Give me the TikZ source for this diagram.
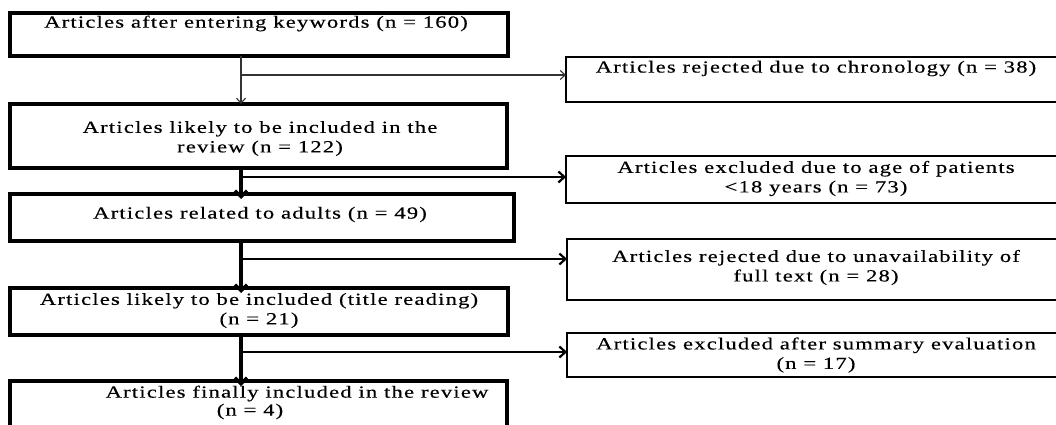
\documentclass[tikz,border=0pt]{standalone}
\usepackage{fontspec}
\setmainfont{Liberation Serif}[FakeStretch=1.33, LetterSpace=7, FakeBold=0.4]
\usetikzlibrary{arrows.meta}
\begin{document}
\begin{tikzpicture}[x=1pt,y=-1pt,
  box/.style={draw=black, line width=3.2pt, inner sep=0pt, outer sep=0pt},
  rbox/.style={box, line width=2.8pt},
  txt/.style={align=center, inner sep=0pt, outer sep=0pt, font=\fontsize{17}{19.5}\selectfont},
  thinarr/.style={draw=black!80, line width=1.1pt, -{Straight Barb[length=5pt,width=9pt]}},
  thickv/.style={line width=3.2pt, -{Straight Barb[length=6pt,width=12pt]}, shorten >=-5pt},
  branch/.style={line width=2.2pt, -{Straight Barb[length=6pt,width=11pt]}}]
\useasboundingbox (0,0) rectangle (1056,425);
\clip (0,0) rectangle (1056,425);
% left column boxes
\node[box, minimum width=498pt, minimum height=43pt] (b1) at (259,34.5) {};
\node[box, minimum width=497pt, minimum height=64pt] (b2) at (258.5,136) {};
\node[box, minimum width=504pt, minimum height=47pt] (b3) at (262,217.5) {};
\node[box, minimum width=498pt, minimum height=47pt] (b4) at (259,311.5) {};
\node[box, minimum width=497pt, minimum height=64pt] (b5) at (258.5,413) {};
% right column boxes
\node[rbox, minimum width=500pt, minimum height=45pt] (r1) at (816,79.5) {};
\node[rbox, minimum width=500pt, minimum height=47pt] (r2) at (816,179.5) {};
\node[rbox, minimum width=499pt, minimum height=61pt] (r3) at (816.5,269.5) {};
\node[rbox, minimum width=499pt, minimum height=44pt] (r4) at (816.5,355) {};
% texts
\node[txt] (t1) at (256,23.5) {Articles after entering keywords (n = 160)};
\node[txt] (t2) at (260,138.5) {Articles likely to be included in the\\review (n = 122)};
\node[txt] (t3) at (260,214.5) {Articles related to adults (n = 49)};
\node[txt] (t4) at (259,310.5) {Articles likely to be included (title reading)\\(n = 21)};
\node[txt] (t5a) at (297,393.5) {Articles finally included in the review};
\node[txt] (t5b) at (250,411.5) {(n = 4)};
\node[txt] (u1) at (816,68.5) {Articles rejected due to chronology (n = 38)};
\node[txt] (u2) at (816,178.5) {Articles excluded due to age of patients\\<18 years (n = 73)};
\node[txt] (u3) at (816,267.5) {Articles rejected due to unavailability of\\full text (n = 28)};
\node[txt] (u4) at (816,355) {Articles excluded after summary evaluation\\(n = 17)};
% connectors
\coordinate (sp) at (241,0);
\coordinate (j1) at (241,75);
\coordinate (j2) at (241,177);
\coordinate (j3) at (241,259);
\coordinate (j4) at (241,352);
\draw[thinarr] (b1.south -| sp) -- (b2.north -| sp);
\draw[thinarr] (j1) -- (j1 -| r1.west);
\draw[thickv] (b2.south -| sp) -- (b3.north -| sp);
\draw[branch] (j2) -- (j2 -| r2.west);
\draw[thickv] (b3.south -| sp) -- (b4.north -| sp);
\draw[branch] (j3) -- (j3 -| r3.west);
\draw[thickv] (b4.south -| sp) -- (b5.north -| sp);
\draw[branch] (j4) -- (j4 -| r4.west);
\end{tikzpicture}
\end{document}
